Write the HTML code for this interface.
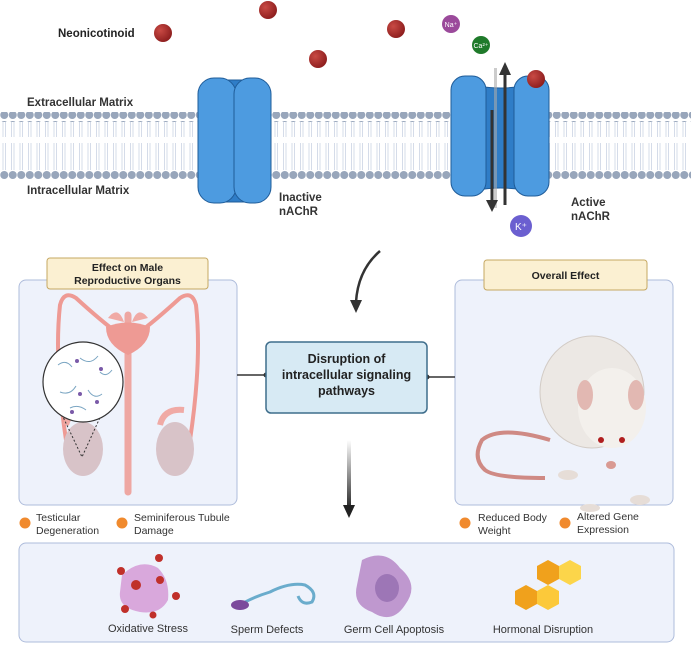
<!DOCTYPE html>
<html><head><meta charset="utf-8"><style>
html,body{margin:0;padding:0;background:#fff;}
svg{display:block;font-family:"Liberation Sans",sans-serif;}
</style></head><body>
<svg width="691" height="645" viewBox="0 0 691 645" xmlns="http://www.w3.org/2000/svg">
<defs>
<pattern id="heads" x="0" y="0" width="8.5" height="10" patternUnits="userSpaceOnUse">
<circle cx="4.25" cy="5" r="4" fill="#98a6bb"/></pattern>
<pattern id="tails" x="0" y="0" width="8.5" height="40" patternUnits="userSpaceOnUse">
<path d="M3 0 L3 17 M5.5 0 L5.5 17 M3 23 L3 40 M5.5 23 L5.5 40" stroke="#c3cde0" stroke-width="0.7"/></pattern>
<radialGradient id="ball" cx="35%" cy="35%" r="70%"><stop offset="0" stop-color="#c94a44"/><stop offset="1" stop-color="#8c1d1d"/></radialGradient>
<linearGradient id="fade" x1="0" y1="0" x2="0" y2="1"><stop offset="0" stop-color="#fff"/><stop offset="1" stop-color="#222"/></linearGradient>
</defs>

<rect x="0" y="122" width="691" height="48" fill="url(#tails)"/>
<rect x="0" y="112" width="691" height="10" fill="url(#heads)"/>
<rect x="0" y="169" width="691" height="10" fill="url(#heads)"/>

<text x="27" y="106" font-size="11.5" font-weight="bold" fill="#333">Extracellular Matrix</text>
<text x="27" y="194" font-size="11.5" font-weight="bold" fill="#333">Intracellular Matrix</text>
<text x="58" y="37" font-size="11.5" font-weight="bold" fill="#222">Neonicotinoid</text>

<g fill="url(#ball)">
<circle cx="163" cy="33" r="9"/><circle cx="268" cy="10" r="9"/><circle cx="318" cy="59" r="9"/><circle cx="396" cy="29" r="9"/>
</g>
<circle cx="451" cy="24" r="9" fill="#9b4a9b"/><text x="451" y="27" font-size="7" fill="#fff" text-anchor="middle">Na⁺</text>
<circle cx="481" cy="45" r="9" fill="#1f7a2a"/><text x="481" y="48" font-size="7" fill="#fff" text-anchor="middle">Ca²⁺</text>
<circle cx="521" cy="226" r="11" fill="#6b5fd0"/><text x="521" y="230" font-size="10" fill="#fff" text-anchor="middle">K⁺</text>

<rect x="210" y="80" width="50" height="122" rx="8" fill="#2f7dc7" stroke="#1f5c99"/>
<rect x="198" y="78" width="38" height="125" rx="16" fill="#4d9be0" stroke="#1f5c99"/>
<rect x="234" y="78" width="37" height="125" rx="16" fill="#4d9be0" stroke="#1f5c99"/>
<text x="279" y="201" font-size="11.5" font-weight="bold" fill="#333">Inactive</text>
<text x="279" y="215" font-size="11.5" font-weight="bold" fill="#333">nAChR</text>

<path d="M478 86 Q500 90 524 86 L524 190 Q500 186 478 190 Z" fill="#2f7dc7" stroke="#1f5c99"/>
<rect x="451" y="76" width="35" height="120" rx="14" fill="#4d9be0" stroke="#1f5c99"/>
<rect x="514" y="76" width="35" height="120" rx="14" fill="#4d9be0" stroke="#1f5c99"/>
<circle cx="536" cy="79" r="9" fill="url(#ball)"/>
<rect x="494" y="68" width="3" height="140" fill="#aaa" opacity="0.6"/>
<line x1="505" y1="75" x2="505" y2="205" stroke="#333" stroke-width="3"/>
<path d="M499 75 L505 62 L511 75 Z" fill="#333"/><path d="M486 200 L492 212 L498 200 Z" fill="#333"/>
<line x1="492" y1="110" x2="492" y2="202" stroke="#333" stroke-width="3"/>
<text x="571" y="206" font-size="11.5" font-weight="bold" fill="#333">Active</text>
<text x="571" y="220" font-size="11.5" font-weight="bold" fill="#333">nAChR</text>

<path d="M380 251 Q358 270 356 302" fill="none" stroke="#333" stroke-width="2.5"/>
<path d="M350 300 L356 313 L362 300 Z" fill="#333"/>

<!-- left panel -->
<rect x="19" y="280" width="218" height="225" rx="7" fill="#eef2fb" stroke="#aebcdb"/>
<rect x="47" y="258" width="161" height="31" rx="3" fill="#fbf0d2" stroke="#c6a862"/>
<text x="127.5" y="271" font-size="10.5" font-weight="bold" fill="#222" text-anchor="middle">Effect on Male</text>
<text x="127.5" y="284" font-size="10.5" font-weight="bold" fill="#222" text-anchor="middle">Reproductive Organs</text>
<g fill="none" stroke="#ee9a94" stroke-width="4">
<path d="M66 440 Q54 360 60 305 Q64 290 76 298 Q100 320 120 335"/>
<path d="M190 440 Q202 360 196 305 Q192 290 180 298 Q156 320 136 335"/>
</g>
<path d="M128 315 L128 492" stroke="#eea7a2" stroke-width="7" stroke-linecap="round"/>
<path d="M106 327 Q128 318 150 327 Q150 345 128 355 Q106 345 106 327Z" fill="#ee9a94"/>
<path d="M108 318 Q118 305 124 322 Z M148 318 Q138 305 132 322Z" fill="#f0aaa5"/>
<ellipse cx="83" cy="449" rx="20" ry="27" fill="#d8c3c8"/>
<ellipse cx="175" cy="449" rx="19" ry="27" fill="#d8c3c8"/>
<path d="M66 425 Q70 408 90 410" fill="none" stroke="#f0aaa5" stroke-width="6"/>
<path d="M160 425 Q164 408 184 410" fill="none" stroke="#f0aaa5" stroke-width="6"/>
<path d="M55 400 L82 457 L108 400" fill="none" stroke="#333" stroke-dasharray="2 2"/>
<circle cx="83" cy="382" r="40" fill="#fff" stroke="#333" stroke-width="1.2"/>
<g stroke="#7aa5c2" fill="none"><path d="M58 365 q8 -6 14 2 M80 358 q10 8 18 -2 M60 392 q10 4 16 -6 M88 390 q6 10 14 4 M70 408 q8 -4 16 2 M100 372 q6 6 12 -2"/></g>
<g fill="#7a5aa8"><circle cx="77" cy="361" r="2"/><circle cx="101" cy="369" r="2"/><circle cx="80" cy="394" r="2"/><circle cx="97" cy="402" r="2"/><circle cx="72" cy="412" r="2"/></g>

<!-- right panel -->
<rect x="455" y="280" width="218" height="225" rx="7" fill="#eef2fb" stroke="#aebcdb"/>
<rect x="484" y="260" width="163" height="30" rx="3" fill="#fbf0d2" stroke="#c6a862"/>
<text x="565.5" y="279" font-size="10.5" font-weight="bold" fill="#222" text-anchor="middle">Overall Effect</text>
<path d="M550 440 Q500 425 482 440 Q472 458 485 470 Q495 478 545 478" fill="none" stroke="#cf8a84" stroke-width="4"/>
<ellipse cx="592" cy="392" rx="52" ry="56" fill="#ece8e4" stroke="#d2cbc5"/>
<ellipse cx="612" cy="408" rx="34" ry="40" fill="#f3f0ec"/>
<ellipse cx="585" cy="395" rx="8" ry="15" fill="#e2b8b2"/>
<ellipse cx="636" cy="395" rx="8" ry="15" fill="#e2b8b2"/>
<circle cx="601" cy="440" r="3" fill="#b01e1e"/><circle cx="622" cy="440" r="3" fill="#b01e1e"/>
<ellipse cx="611" cy="465" rx="5" ry="4" fill="#d99a92"/>
<ellipse cx="568" cy="475" rx="10" ry="5" fill="#e6ddd7"/><ellipse cx="590" cy="508" rx="10" ry="4" fill="#e6ddd7"/><ellipse cx="640" cy="500" rx="10" ry="5" fill="#e6ddd7"/>

<line x1="237" y1="375" x2="266" y2="375" stroke="#333" stroke-width="1.5"/>
<circle cx="266" cy="375" r="2.5" fill="#333"/>
<line x1="427" y1="377" x2="455" y2="377" stroke="#333" stroke-width="1.5"/>
<circle cx="427" cy="377" r="2.5" fill="#333"/>

<rect x="266" y="342" width="161" height="71" rx="5" fill="#d7eaf4" stroke="#3f6e8c" stroke-width="1.5"/>
<text x="346.5" y="363" font-size="12.5" font-weight="bold" fill="#222" text-anchor="middle">Disruption of</text>
<text x="346.5" y="379" font-size="12.5" font-weight="bold" fill="#222" text-anchor="middle">intracellular signaling</text>
<text x="346.5" y="395" font-size="12.5" font-weight="bold" fill="#222" text-anchor="middle">pathways</text>

<rect x="347" y="440" width="4" height="70" fill="url(#fade)"/>
<path d="M343 505 L349 518 L355 505 Z" fill="#222"/>

<g fill="#f08a2e"><circle cx="25" cy="523" r="5.5"/><circle cx="122" cy="523" r="5.5"/><circle cx="465" cy="523" r="5.5"/><circle cx="565" cy="523" r="5.5"/></g>
<g font-size="10.5" fill="#333">
<text x="36" y="521">Testicular</text><text x="36" y="534">Degeneration</text>
<text x="134" y="521">Seminiferous Tubule</text><text x="134" y="534">Damage</text>
<text x="478" y="521">Reduced Body</text><text x="478" y="534">Weight</text>
<text x="577" y="520">Altered Gene</text><text x="577" y="533">Expression</text>
</g>

<rect x="19" y="543" width="655" height="99" rx="7" fill="#eef2fb" stroke="#aebcdb"/>
<path d="M122 575 Q140 558 158 568 Q170 580 168 600 Q160 615 140 612 Q118 608 120 592 Z" fill="#d9a8dc"/>
<g fill="#c0302a"><circle cx="121" cy="571" r="4"/><circle cx="159" cy="558" r="4"/><circle cx="136" cy="585" r="5"/><circle cx="160" cy="580" r="4"/><circle cx="176" cy="596" r="4"/><circle cx="125" cy="609" r="4"/><circle cx="153" cy="615" r="3.5"/></g>
<path d="M235 608 Q250 598 270 592 Q290 582 305 585 Q318 592 312 602 Q302 606 298 596" fill="none" stroke="#6aaccc" stroke-width="3"/>
<ellipse cx="240" cy="605" rx="9" ry="5" fill="#7b4a9c"/>
<path d="M362 560 Q385 548 400 568 Q420 585 405 605 Q392 625 372 612 Q352 605 357 585 Z" fill="#bf98cf"/>
<ellipse cx="387" cy="588" rx="12" ry="14" fill="#9d76b6"/>
<polygon points="526,585 537,591 537,604 526,610 515,604 515,591" fill="#f0a11c"/>
<polygon points="548,585 559,591 559,604 548,610 537,604 537,591" fill="#fcc93a"/>
<polygon points="548,560 559,566 559,579 548,585 537,579 537,566" fill="#f0a11c"/>
<polygon points="570,560 581,566 581,579 570,585 559,579 559,566" fill="#fcd54a"/>
<g font-size="11" fill="#333" text-anchor="middle">
<text x="148" y="632">Oxidative Stress</text>
<text x="267" y="633">Sperm Defects</text>
<text x="394" y="633">Germ Cell Apoptosis</text>
<text x="543" y="633">Hormonal Disruption</text>
</g>
</svg>
</body></html>
